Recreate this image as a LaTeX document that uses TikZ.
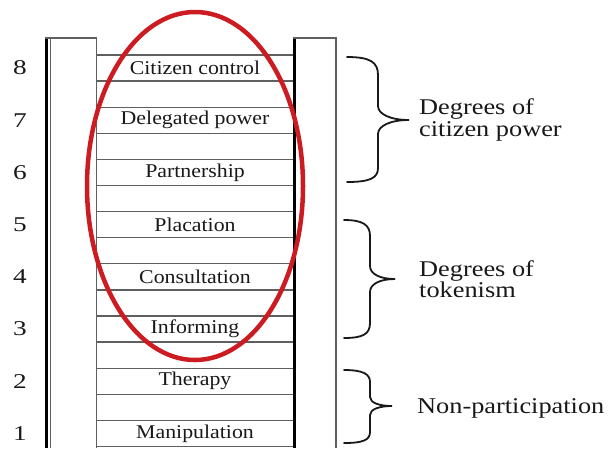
\documentclass[tikz,border=0pt]{standalone}
\usepackage{fontspec}
\setmainfont{Liberation Serif}[FakeStretch=1.12]
\newfontfamily\bigfont{Liberation Serif}[FakeStretch=1.17]
\newfontfamily\numfont{Liberation Serif}[FakeStretch=1.3]
\definecolor{ink}{RGB}{25,25,25}
\definecolor{rung}{RGB}{95,95,95}
\definecolor{ovalred}{RGB}{204,28,34}
\tikzset{
  rungline/.style={draw=rung, line width=1.3pt},
  railthick/.style={draw=black, line width=3.5pt},
  railthin/.style={draw=rung, line width=1.4pt},
  steplabel/.style={text=ink, font=\fontsize{19.5}{22}\selectfont, inner sep=0pt, anchor=center},
  levelnum/.style={text=ink, font=\numfont\fontsize{21}{24}\selectfont, inner sep=0pt, anchor=center},
  grouplabel/.style={text=ink, font=\bigfont\fontsize{22.5}{21.5}\selectfont, inner sep=0pt, anchor=west, align=left},
  bracepath/.style={draw=ink, line width=1.8pt, line cap=round},
  oval/.style={draw=ovalred, line width=4.5pt}
}
\begin{document}
\begin{tikzpicture}[x=1pt,y=-1pt]
\useasboundingbox (0,0) rectangle (609,448);
\fill[white] (0,0) rectangle (609,448);
% rungs
\foreach \k in {0,...,15}{
  \draw[rungline] (96,{55+26.1*\k}) -- (294,{55+26.1*\k});
}
% left rail
\draw[railthick] (46.5,38) -- (46.5,448);
\draw[railthin] (50.5,38) -- (50.5,448);
\draw[railthin] (96.5,38) -- (96.5,448);
\draw[railthin] (45,38) -- (97,38);
% right rail
\draw[railthick] (294.5,38) -- (294.5,448);
\draw[railthin] (336,38) -- (336,448);
\draw[railthin] (293,38) -- (337,38);
% step labels and numbers
\foreach \n/\t in {8/Citizen control,7/Delegated power,6/Partnership,5/Placation,4/Consultation,3/Informing,2/Therapy,1/Manipulation}{
  \node[steplabel] (L\n) at (195,{68+52.2*(8-\n)}) {\t};
  \node[levelnum] (N\n) at (20,{68+52.2*(8-\n)}) {\n};
}
% red oval
\draw[oval] (195,186) ellipse [x radius=108, y radius=174];
% braces
\draw[bracepath] (347,57) .. controls (370,57) and (378,62) .. (378,75) -- (378,106)
  .. controls (378,114) and (390,120) .. (409,120)
  .. controls (390,120) and (378,126) .. (378,134) -- (378,168)
  .. controls (378,178) and (370,182) .. (347,182);
\draw[bracepath] (344,220) .. controls (363,220) and (370,225) .. (370,236) -- (370,266)
  .. controls (370,274) and (380,279) .. (395,279)
  .. controls (380,279) and (370,284) .. (370,292) -- (370,323)
  .. controls (370,334) and (363,338) .. (344,338);
\draw[bracepath] (344,370) .. controls (363,370) and (370,374) .. (370,382) -- (370,397)
  .. controls (370,403) and (380,406) .. (392,406)
  .. controls (380,406) and (370,409) .. (370,415) -- (370,432)
  .. controls (370,440) and (363,443) .. (344,443);
% group labels
\node[grouplabel] (G1) at (419,120) {Degrees of\\citizen power};
\node[grouplabel] (G2) at (419,279) {Degrees of\\tokenism};
\node[grouplabel] (G3) at (417,408) {Non-participation};
\end{tikzpicture}
\end{document}
